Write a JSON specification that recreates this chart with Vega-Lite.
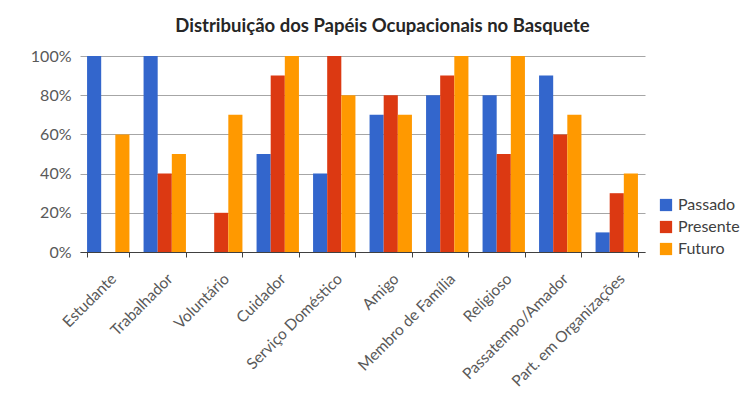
{
  "$schema": "https://vega.github.io/schema/vega-lite/v6.json",
  "width": 565,
  "height": 196,
  "padding": {"left": 30, "top": 16, "right": 5, "bottom": 5},
  "background": "white",
  "title": {
    "text": "Distribuição dos Papéis Ocupacionais no Basquete",
    "font": "Lato",
    "fontSize": 18.5,
    "fontWeight": "bold",
    "color": "#262626",
    "anchor": "middle",
    "offset": 13,
    "dx": 20
  },
  "data": {
    "values": [
      {"papel": "Estudante", "tempo": "Passado", "valor": 1.0},
      {"papel": "Estudante", "tempo": "Presente", "valor": 0.0},
      {"papel": "Estudante", "tempo": "Futuro", "valor": 0.6},
      {"papel": "Trabalhador", "tempo": "Passado", "valor": 1.0},
      {"papel": "Trabalhador", "tempo": "Presente", "valor": 0.4},
      {"papel": "Trabalhador", "tempo": "Futuro", "valor": 0.5},
      {"papel": "Voluntário", "tempo": "Passado", "valor": 0.0},
      {"papel": "Voluntário", "tempo": "Presente", "valor": 0.2},
      {"papel": "Voluntário", "tempo": "Futuro", "valor": 0.7},
      {"papel": "Cuidador", "tempo": "Passado", "valor": 0.5},
      {"papel": "Cuidador", "tempo": "Presente", "valor": 0.9},
      {"papel": "Cuidador", "tempo": "Futuro", "valor": 1.0},
      {"papel": "Serviço Doméstico", "tempo": "Passado", "valor": 0.4},
      {"papel": "Serviço Doméstico", "tempo": "Presente", "valor": 1.0},
      {"papel": "Serviço Doméstico", "tempo": "Futuro", "valor": 0.8},
      {"papel": "Amigo", "tempo": "Passado", "valor": 0.7},
      {"papel": "Amigo", "tempo": "Presente", "valor": 0.8},
      {"papel": "Amigo", "tempo": "Futuro", "valor": 0.7},
      {"papel": "Membro de Família", "tempo": "Passado", "valor": 0.8},
      {"papel": "Membro de Família", "tempo": "Presente", "valor": 0.9},
      {"papel": "Membro de Família", "tempo": "Futuro", "valor": 1.0},
      {"papel": "Religioso", "tempo": "Passado", "valor": 0.8},
      {"papel": "Religioso", "tempo": "Presente", "valor": 0.5},
      {"papel": "Religioso", "tempo": "Futuro", "valor": 1.0},
      {"papel": "Passatempo/Amador", "tempo": "Passado", "valor": 0.9},
      {"papel": "Passatempo/Amador", "tempo": "Presente", "valor": 0.6},
      {"papel": "Passatempo/Amador", "tempo": "Futuro", "valor": 0.7},
      {"papel": "Part. em Organizações", "tempo": "Passado", "valor": 0.1},
      {"papel": "Part. em Organizações", "tempo": "Presente", "valor": 0.3},
      {"papel": "Part. em Organizações", "tempo": "Futuro", "valor": 0.4}
    ]
  },
  "mark": {"type": "bar"},
  "encoding": {
    "x": {
      "field": "papel",
      "type": "nominal",
      "sort": null,
      "title": null,
      "scale": {"paddingInner": 0.25, "paddingOuter": 0.125},
      "axis": {
        "labelAngle": -45,
        "labelFont": "Lato",
        "labelFontSize": 15.5,
        "labelColor": "#595959",
        "labelPadding": 14,
        "ticks": true,
        "tickSize": 5,
        "tickColor": "#404040",
        "tickBand": "extent",
        "domainColor": "#404040",
        "domainWidth": 1
      }
    },
    "xOffset": {"field": "tempo", "type": "nominal", "sort": ["Passado", "Presente", "Futuro"]},
    "y": {
      "field": "valor",
      "type": "quantitative",
      "title": null,
      "scale": {"domain": [0, 1]},
      "axis": {
        "values": [0, 0.2, 0.4, 0.6, 0.8, 1.0],
        "format": ".0%",
        "labelFont": "Lato",
        "labelFontSize": 16,
        "labelColor": "#595959",
        "labelPadding": 9,
        "ticks": false,
        "domain": false,
        "gridColor": "#A6A6A6",
        "gridWidth": 1
      }
    },
    "color": {
      "field": "tempo",
      "type": "nominal",
      "sort": ["Passado", "Presente", "Futuro"],
      "title": null,
      "scale": {"domain": ["Passado", "Presente", "Futuro"], "range": ["#3366CC", "#DC3912", "#FF9900"]},
      "legend": {
        "orient": "none",
        "legendX": 578,
        "legendY": 141,
        "symbolType": "square",
        "symbolSize": 150,
        "symbolStrokeWidth": 0,
        "labelFont": "Lato",
        "labelFontSize": 16,
        "labelColor": "#404040",
        "rowPadding": 6,
        "labelOffset": 4
      }
    }
  },
  "config": {"view": {"stroke": null}}
}
